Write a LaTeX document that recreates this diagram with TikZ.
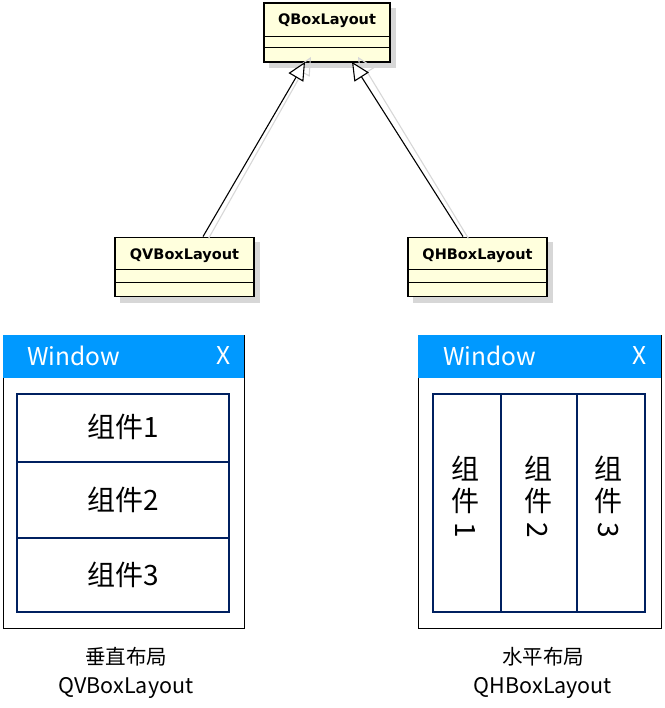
\documentclass[tikz,border=0pt]{standalone}
\usepackage{fontspec}
\setmainfont{Liberation Sans}
\newfontfamily\cjk{Noto Sans CJK SC}
\newfontfamily\umlfont{DejaVu Sans}
\usetikzlibrary{arrows.meta}
\definecolor{titleblue}{RGB}{0,153,255}
\definecolor{umlfill}{RGB}{255,255,221}
\definecolor{innerblue}{RGB}{0,32,96}
\definecolor{shadowgray}{RGB}{215,215,215}
\tikzset{
  umlbox/.style={draw=black, line width=1.8pt, fill=umlfill, inner sep=0pt, minimum width=#1, minimum height=59pt},
  umlshadow/.style={fill=shadowgray, draw=none},
  umltext/.style={font=\umlfont\bfseries\fontsize{14.5}{16}\selectfont, inner sep=0pt},
  inherit/.style={draw=black, line width=1.1pt, -{Triangle[open, length=18pt, width=17pt, fill=white, line width=1.1pt]}},
  inheritshadow/.style={draw=shadowgray, line width=1.1pt, -{Triangle[open, length=18pt, width=17pt, line width=1.1pt]}},
  winframe/.style={draw=black, line width=0.8pt, fill=white},
  titlebar/.style={fill=titleblue, draw=none},
  titletext/.style={text=white, font=\cjk\fontsize{24.5}{26}\selectfont, inner sep=0pt},
  inner/.style={draw=innerblue, line width=1.5pt},
  comp/.style={font=\cjk\fontsize{28}{30}\selectfont, inner sep=0pt},
  caption/.style={font=\cjk\fontsize{20.5}{22}\selectfont, inner sep=0pt},
  captionlatin/.style={font=\cjk\fontsize{21.5}{23}\selectfont, inner sep=0pt}
}
\begin{document}
\begin{tikzpicture}[x=1pt,y=-1pt]
\useasboundingbox (0,0) rectangle (664,708);
% shadows
\fill[umlshadow] (269,8) rectangle (396,68);
\fill[umlshadow] (120,242) rectangle (260,303);
\fill[umlshadow] (413,242) rectangle (553,303);
% UML boxes
\node[umlbox=126pt] (qbox) at (327,32.5) {};
\node[umltext] (qboxT) at (327,21) {QBoxLayout};
\draw[line width=1pt] (264,37) -- (390,37);
\draw[line width=1pt] (264,48) -- (390,48);

\node[umlbox=139pt] (qv) at (184.5,267) {};
\node[umltext] (qvT) at (184.5,256) {QVBoxLayout};
\draw[line width=1pt] (115,269) -- (254,269);
\draw[line width=1pt] (115,282) -- (254,282);

\node[umlbox=139pt] (qh) at (477.5,267) {};
\node[umltext] (qhT) at (477.5,256) {QHBoxLayout};
\draw[line width=1pt] (408,269) -- (547,269);
\draw[line width=1pt] (408,282) -- (547,282);

% inheritance connectors (shadow first)
\draw[inheritshadow] ([xshift=24pt,yshift=-2pt]qv.north) -- ([xshift=-16pt,yshift=6pt]qbox.south);
\draw[inheritshadow] ([xshift=-9pt,yshift=-2pt]qh.north) -- ([xshift=31pt,yshift=6pt]qbox.south);
\draw[inherit] ([xshift=18.5pt]qv.north) -- ([xshift=-22pt,yshift=1pt]qbox.south);
\draw[inherit] ([xshift=-14.5pt]qh.north) -- ([xshift=25pt,yshift=1pt]qbox.south);

% left window
\node[winframe, minimum width=241pt, minimum height=293pt, inner sep=0pt] (lwin) at (123.5,481.5) {};
\fill[titlebar] (3,335) rectangle (244,378);
\node[titletext, anchor=west] (lwinT) at (27,356) {Window};
\node[titletext] (lwinX) at (224,356) {X};
\draw[inner] (17,394) rectangle (229,612);
\draw[inner] (17,462) -- (229,462);
\draw[inner] (17,538) -- (229,538);
\node[comp] (lc1) at (123,427) {组件1};
\node[comp] (lc2) at (123,500) {组件2};
\node[comp] (lc3) at (123,575) {组件3};
\node[caption] (lcap1) at (126,657) {垂直布局};
\node[captionlatin] (lcap2) at (126,688) {QVBoxLayout};

% right window
\node[winframe, minimum width=243pt, minimum height=293pt, inner sep=0pt] (rwin) at (539.5,481.5) {};
\fill[titlebar] (418,335) rectangle (661,378);
\node[titletext, anchor=west] (rwinT) at (443,356) {Window};
\node[titletext] (rwinX) at (640,356) {X};
\draw[inner] (433,394) rectangle (645,612);
\draw[inner] (501,394) -- (501,612);
\draw[inner] (577,394) -- (577,612);
\node[comp] (rc1a) at (465,469) {组};
\node[comp] (rc1b) at (465,501) {件};
\node[comp, rotate=-90] (rc1c) at (465,530) {1};
\node[comp] (rc2a) at (538,469) {组};
\node[comp] (rc2b) at (538,501) {件};
\node[comp, rotate=-90] (rc2c) at (538,530) {2};
\node[comp] (rc3a) at (608,469) {组};
\node[comp] (rc3b) at (608,501) {件};
\node[comp, rotate=-90] (rc3c) at (608,530) {3};
\node[caption] (rcap1) at (543,657) {水平布局};
\node[captionlatin] (rcap2) at (543,688) {QHBoxLayout};
\end{tikzpicture}
\end{document}
